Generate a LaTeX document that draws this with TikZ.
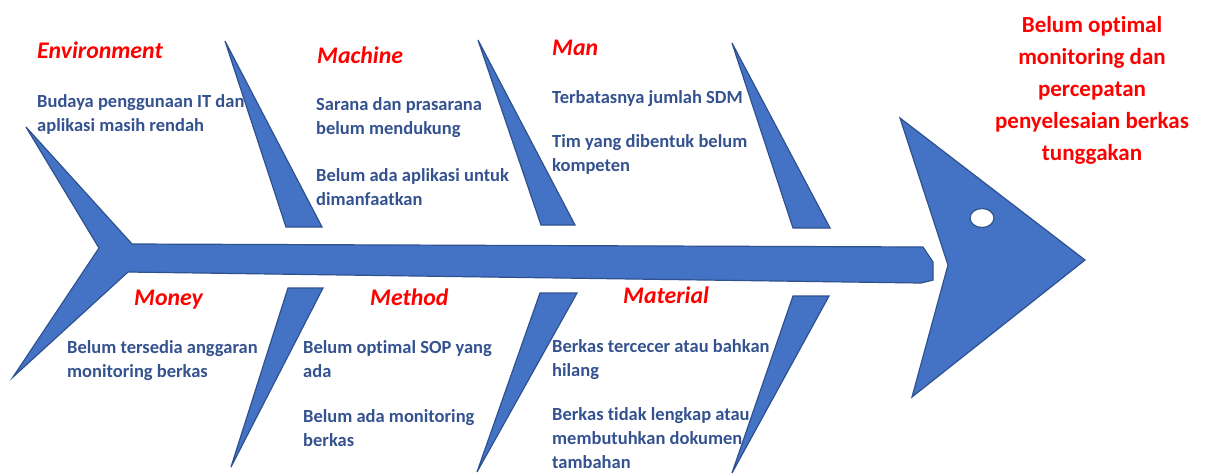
\documentclass[tikz,border=0pt]{standalone}
\usepackage{fontspec}
\setmainfont{Carlito}[Ligatures={NoCommon,NoContextual}]
\definecolor{fishfill}{HTML}{4472C4}
\definecolor{fishline}{HTML}{2F528F}
\definecolor{bodyblue}{HTML}{34528F}
\definecolor{titlered}{HTML}{FF0000}
\begin{document}
\begin{tikzpicture}[x=1pt,y=-1pt,
  fish/.style={fill=fishfill,draw=fishline,line width=1.2pt,line join=miter},
  cause/.style={anchor=base west,inner sep=0pt,text=bodyblue,font=\fontsize{18.5}{24}\selectfont\bfseries},
  cat/.style={anchor=base west,inner sep=0pt,text=titlered,font=\fontsize{23.8}{24}\selectfont\bfseries\itshape},
  effect/.style={anchor=base,inner sep=0pt,text=titlered,font=\fontsize{23}{32}\selectfont\bfseries}]
\useasboundingbox (0,0) rectangle (1208,475);

% spine and tail
\draw[fish] (26,127) -- (132,244) -- (923,247) -- (933,262) -- (933,280) -- (921,283)
  -- (128,272) -- (13,377) -- (99,248) -- cycle;
% head
\draw[fish] (900,118) -- (1085,260) -- (912,397) -- (948,265) -- cycle;
\draw[fill=white,draw=fishline,line width=1.2pt] (982,218) ellipse [x radius=12,y radius=9.5];

% upper bones
\draw[fish] (225,41) -- (322,227) -- (286,227) -- cycle;
\draw[fish] (478,40) -- (575,225) -- (541,225) -- cycle;
\draw[fish] (732,43) -- (830,228) -- (793,228) -- cycle;
% lower bones
\draw[fish] (288,288) -- (323,288) -- (231,467) -- cycle;
\draw[fish] (540,293) -- (577,293) -- (477,472) -- cycle;
\draw[fish] (793,296) -- (829,296) -- (732,473) -- cycle;

% categories
\node[cat] (env) at (37,58) {Environment};
\node[cat] (mach) at (317,63) {Machine};
\node[cat] (man) at (552,55) {Man};
\node[cat] (money) at (134,305) {Money};
\node[cat] (method) at (370,305) {Method};
\node[cat] (mat) at (623,303) {Material};

% causes
\node[cause] (e1a) at (37,107) {Budaya penggunaan IT dan};
\node[cause] (e1b) at (37,131) {aplikasi masih rendah};

\node[cause] (m1a) at (316,110) {Sarana dan prasarana};
\node[cause] (m1b) at (316,134) {belum mendukung};
\node[cause] (m2a) at (316,181) {Belum ada aplikasi untuk};
\node[cause] (m2b) at (316,205) {dimanfaatkan};

\node[cause] (n1) at (552,103) {Terbatasnya jumlah SDM};
\node[cause] (n2a) at (552,147) {Tim yang dibentuk belum};
\node[cause] (n2b) at (552,171) {kompeten};

\node[cause] (o1a) at (67,353) {Belum tersedia anggaran};
\node[cause] (o1b) at (67,377) {monitoring berkas};

\node[cause] (t1a) at (303,353) {Belum optimal SOP yang};
\node[cause] (t1b) at (303,377) {ada};
\node[cause] (t2a) at (303,422) {Belum ada monitoring};
\node[cause] (t2b) at (303,446) {berkas};

\node[cause] (a1a) at (552,352) {Berkas tercecer atau bahkan};
\node[cause] (a1b) at (552,376) {hilang};
\node[cause] (a2a) at (552,420) {Berkas tidak lengkap atau};
\node[cause] (a2b) at (552,444) {membutuhkan dokumen};
\node[cause] (a2c) at (552,468) {tambahan};

% effect
\node[effect] (h1) at (1092,32) {Belum optimal};
\node[effect] (h2) at (1092,64) {monitoring dan};
\node[effect] (h3) at (1092,96) {percepatan};
\node[effect] (h4) at (1092,128) {penyelesaian berkas};
\node[effect] (h5) at (1092,160) {tunggakan};
\end{tikzpicture}
\end{document}
